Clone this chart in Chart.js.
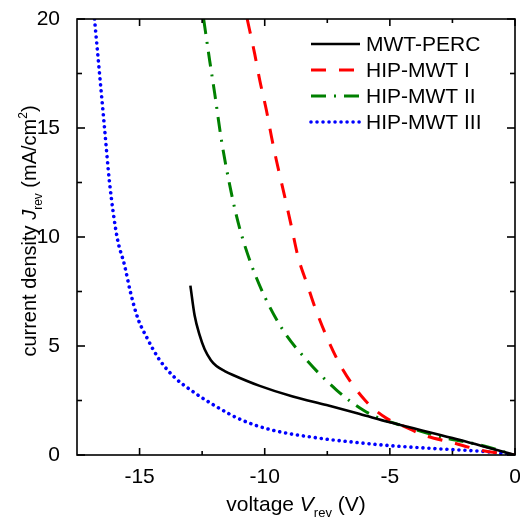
<!DOCTYPE html>
<html>
<head>
<meta charset="utf-8">
<script src="https://cdn.jsdelivr.net/npm/chart.js@4"></script>
<style>
  html, body { margin: 0; padding: 0; background: #fff; }
  canvas { display: block; }
</style>
</head>
<body>
<canvas id="ivChart" width="520" height="523"></canvas>
<script>
// tick labels
const xTicks = [-15, -10, -5, 0];
const xMinor = [-12.5, -7.5, -2.5];
const yTicks = [0, 5, 10, 15, 20];
const yMinor = [2.5, 7.5, 12.5, 17.5];

// series (V_rev in V, J_rev in mA/cm2)
const percV = [-12.97, -12.8, -12.6, -12.4, -12.15, -11.93, -11.6, -11.27, -10.2, -8.88, -7.53, -6.2, -5, -2.5, 0];
const percJ = [7.77, 6.4, 5.5, 4.85, 4.35, 4.08, 3.85, 3.67, 3.17, 2.68, 2.29, 1.88, 1.5, 0.78, 0];

const mwt1V = [-10.7, -10.4, -10.2, -9.93, -9.73, -9.53, -9.2, -8.93, -8.67, -8.27, -8.0, -7.47, -6.87, -6.0, -5.13, -4.5, -3.67, -2.47, -1.4, 0];
const mwt1J = [20, 18.4, 17.2, 15.8, 14.6, 13.5, 11.85, 10.47, 9.1, 7.72, 6.8, 5.28, 3.9, 2.52, 1.68, 1.35, 0.92, 0.56, 0.23, 0];

const mwt2V = [-12.44, -12.2, -12.0, -11.73, -11.33, -11.0, -10.53, -10.0, -9.27, -8.33, -7.13, -6.07, -5.4, -4.5, -3, -1.4, 0];
const mwt2J = [20, 18.1, 16.6, 14.45, 12.0, 10.4, 8.72, 7.26, 5.73, 4.36, 2.98, 2.06, 1.68, 1.35, 0.84, 0.46, 0];

const mwt3V = [-16.8, -16.6, -16.4, -16.2, -15.9, -15.6, -15.35, -15.07, -14.73, -14.2, -13.6, -12.87, -11.93, -10.93, -9.73, -8, -6.2, -5, -3, -1.13, 0];
const mwt3J = [20, 17.5, 15, 12.5, 10, 8.7, 7.4, 6.27, 5.43, 4.36, 3.56, 2.91, 2.22, 1.61, 1.15, 0.8, 0.56, 0.43, 0.28, 0.15, 0];

const FONT = "'Liberation Sans', Arial, sans-serif";

function pts(xs, ys) {
  return xs.map((x, i) => ({ x: x, y: ys[i] }));
}

// frame with inward ticks on all four sides
const framePlugin = {
  id: "frame",
  afterDraw(chart) {
    const ctx = chart.ctx;
    const a = chart.chartArea;
    const xs = chart.scales.x;
    const ys = chart.scales.y;
    ctx.save();
    ctx.strokeStyle = "#000";
    ctx.lineWidth = 1.6;
    ctx.strokeRect(a.left, a.top, a.right - a.left, a.bottom - a.top);
    const tick = (x1, y1, x2, y2) => {
      ctx.beginPath();
      ctx.moveTo(x1, y1);
      ctx.lineTo(x2, y2);
      ctx.stroke();
    };
    xTicks.forEach(v => {
      const p = xs.getPixelForValue(v);
      tick(p, a.bottom, p, a.bottom - 7);
      tick(p, a.top, p, a.top + 7);
    });
    xMinor.forEach(v => {
      const p = xs.getPixelForValue(v);
      tick(p, a.bottom, p, a.bottom - 4);
      tick(p, a.top, p, a.top + 4);
    });
    yTicks.forEach(v => {
      const p = ys.getPixelForValue(v);
      tick(a.left, p, a.left + 8, p);
      tick(a.right, p, a.right - 8, p);
    });
    yMinor.forEach(v => {
      const p = ys.getPixelForValue(v);
      tick(a.left, p, a.left + 5, p);
      tick(a.right, p, a.right - 5, p);
    });
    ctx.restore();
  }
};

// draws a run of [text, style] pieces, style: n normal, i italic, sub, sup
function drawPieces(ctx, pieces, size) {
  const small = Math.round(size * 0.62);
  const fontFor = s =>
    s === "i" ? "italic " + size + "px " + FONT :
    (s === "sub" || s === "sup") ? small + "px " + FONT :
    size + "px " + FONT;
  let total = 0;
  pieces.forEach(p => {
    ctx.font = fontFor(p[1]);
    total += ctx.measureText(p[0]).width;
  });
  let x = -total / 2;
  pieces.forEach(p => {
    ctx.font = fontFor(p[1]);
    let dy = 0;
    if (p[1] === "sub") dy = 6;
    if (p[1] === "sup") dy = -9;
    ctx.fillText(p[0], x, dy);
    x += ctx.measureText(p[0]).width;
  });
}

const titlePlugin = {
  id: "titles",
  afterDraw(chart) {
    const ctx = chart.ctx;
    const a = chart.chartArea;
    ctx.save();
    ctx.fillStyle = "#000";
    ctx.textAlign = "left";
    ctx.textBaseline = "alphabetic";

    ctx.save();
    ctx.translate((a.left + a.right) / 2, 511);
    drawPieces(ctx, [["voltage ", "n"], ["V", "i"], ["rev", "sub"], [" (V)", "n"]], 21);
    ctx.restore();

    ctx.save();
    ctx.translate(36, 231);
    ctx.rotate(-Math.PI / 2);
    drawPieces(ctx, [["current density ", "n"], ["J", "i"], ["rev", "sub"],
      [" (mA/cm", "n"], ["2", "sup"], [")", "n"]], 20);
    ctx.restore();

    ctx.restore();
  }
};

// legend inside the plot, top right
const legendPlugin = {
  id: "insideLegend",
  afterDraw(chart) {
    const ctx = chart.ctx;
    const rows = [44, 70, 96, 122];
    ctx.save();
    chart.data.datasets.forEach((ds, i) => {
      const y = rows[i];
      ctx.strokeStyle = ds.borderColor;
      ctx.lineWidth = ds.borderWidth;
      ctx.lineCap = ds.borderCapStyle || "butt";
      ctx.setLineDash(ds.borderDash || []);
      ctx.beginPath();
      ctx.moveTo(311, y);
      ctx.lineTo(360, y);
      ctx.stroke();
      ctx.setLineDash([]);
      ctx.fillStyle = "#000";
      ctx.font = "21px " + FONT;
      ctx.textBaseline = "middle";
      ctx.textAlign = "left";
      ctx.fillText(ds.label, 366, y + 1);
    });
    ctx.restore();
  }
};

new Chart(document.getElementById("ivChart"), {
  type: "scatter",
  data: {
    datasets: [
      {
        label: "MWT-PERC",
        data: pts(percV, percJ),
        borderColor: "#000000",
        borderWidth: 2.6
      },
      {
        label: "HIP-MWT I",
        data: pts(mwt1V, mwt1J),
        borderColor: "#ff0000",
        borderWidth: 3,
        borderDash: [15, 13]
      },
      {
        label: "HIP-MWT II",
        data: pts(mwt2V, mwt2J),
        borderColor: "#008000",
        borderWidth: 3,
        borderDash: [15, 8, 2, 8]
      },
      {
        label: "HIP-MWT III",
        data: pts(mwt3V, mwt3J),
        borderColor: "#0000ff",
        borderWidth: 3.6,
        borderDash: [0.01, 6],
        borderCapStyle: "round"
      }
    ].map(ds => Object.assign({
      showLine: true,
      pointRadius: 0,
      pointHoverRadius: 0,
      cubicInterpolationMode: "monotone",
      fill: false
    }, ds))
  },
  options: {
    responsive: false,
    animation: false,
    layout: { padding: { top: 19, right: 5, left: 0, bottom: 0 } },
    plugins: {
      legend: { display: false },
      tooltip: { enabled: false }
    },
    scales: {
      x: {
        type: "linear",
        min: -17.5,
        max: 0,
        afterBuildTicks: s => { s.ticks = xTicks.map(v => ({ value: v })); },
        afterFit: s => { s.height = 68; s.paddingLeft = 0; s.paddingRight = 0; },
        grid: { display: false },
        border: { display: false },
        ticks: {
          color: "#000",
          font: { size: 21, family: FONT },
          padding: 2,
          maxRotation: 0,
          autoSkip: false
        }
      },
      y: {
        type: "linear",
        min: 0,
        max: 20,
        afterBuildTicks: s => { s.ticks = yTicks.map(v => ({ value: v })); },
        afterFit: s => { s.width = 77; s.paddingTop = 0; s.paddingBottom = 0; },
        grid: { display: false },
        border: { display: false },
        ticks: {
          color: "#000",
          font: { size: 21, family: FONT },
          padding: 9,
          autoSkip: false
        }
      }
    }
  },
  plugins: [framePlugin, titlePlugin, legendPlugin]
});
</script>
</body>
</html>
